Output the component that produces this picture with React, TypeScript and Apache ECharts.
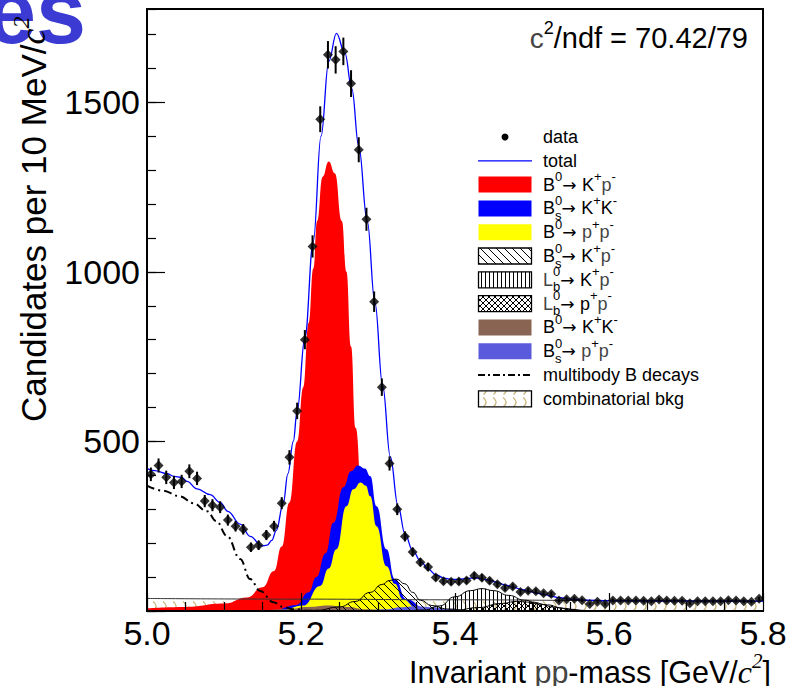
import React, { useEffect, useRef } from 'react';
import * as echarts from 'echarts';

// ---------------- data ----------------
const binLow = 5.0;
const binWidth = 0.01;
const dataCounts = [
  403, 429, 394, 379, 382, 412, 391, 324, 312, 306,
  268, 250, 241, 188, 194, 224, 250, 318, 453, 590,
  800, 1075, 1450, 1640, 1625, 1650, 1555, 1360, 1155, 912,
  660, 435, 300, 220, 174, 144, 130, 99, 88, 86,
  87, 90, 104, 98, 89, 79, 68, 72, 56, 60,
  58, 52, 50, 31, 35, 36, 32, 21, 27, 21,
  31, 31, 31, 31, 30, 29, 34, 31, 30, 30,
  23, 29, 29, 29, 29, 32, 31, 29, 27, 36,
];

const totalFit = [
  [5.0, 420], [5.01, 414], [5.026, 405], [5.035, 397], [5.045, 394], [5.052, 382], [5.065, 360],
  [5.082, 343], [5.095, 320], [5.105, 294], [5.121, 256], [5.134, 220], [5.149, 192], [5.156, 194],
  [5.162, 208], [5.168, 238], [5.177, 318], [5.183, 405], [5.19, 500], [5.195, 590], [5.205, 805],
  [5.216, 1090], [5.226, 1400], [5.236, 1620], [5.246, 1703], [5.257, 1645], [5.266, 1540],
  [5.275, 1370], [5.286, 1150], [5.296, 910], [5.306, 665], [5.316, 455], [5.326, 310],
  [5.335, 228], [5.345, 178], [5.356, 145], [5.365, 124], [5.375, 107], [5.386, 97], [5.396, 93],
  [5.405, 93], [5.416, 96], [5.426, 98], [5.436, 95], [5.445, 90], [5.456, 83], [5.466, 76],
  [5.476, 70], [5.486, 64], [5.496, 58], [5.506, 53], [5.517, 48], [5.526, 43], [5.536, 39],
  [5.549, 35], [5.57, 32], [5.6, 30], [5.7, 29], [5.8, 29],
];

const b0KpiCurve = [
  [5.0, 8], [5.05, 12], [5.1, 22], [5.13, 40], [5.15, 70], [5.165, 118], [5.175, 190], [5.185, 320],
  [5.195, 500], [5.203, 660], [5.21, 850], [5.216, 1010], [5.221, 1150], [5.228, 1280], [5.236, 1325],
  [5.244, 1290], [5.253, 1150], [5.259, 1000], [5.265, 780], [5.271, 540], [5.28, 300], [5.29, 140],
  [5.3, 60], [5.31, 25], [5.33, 6], [5.36, 0],
];

const bsKKStackTop = [
  [5.17, 0], [5.194, 18], [5.21, 55], [5.22, 100], [5.232, 170], [5.242, 260], [5.255, 365],
  [5.265, 412], [5.274, 429], [5.283, 420], [5.29, 397], [5.298, 309], [5.311, 182], [5.322, 94],
  [5.337, 35], [5.36, 10], [5.39, 2], [5.42, 0],
];

const b0PiPiCurve = [
  [5.18, 0], [5.203, 16], [5.225, 74], [5.236, 125], [5.246, 182], [5.259, 309], [5.268, 359],
  [5.2775, 379], [5.284, 370], [5.29, 338], [5.298, 250], [5.311, 132], [5.322, 80], [5.332, 35],
  [5.35, 10], [5.37, 3], [5.4, 0],
];

const bsKpiCurve = [
  [5.2, 0], [5.22, 2], [5.25, 12], [5.27, 28], [5.29, 55], [5.305, 78], [5.315, 90], [5.324, 94],
  [5.335, 80], [5.345, 55], [5.355, 32], [5.37, 16], [5.39, 6], [5.42, 1], [5.45, 0],
];

const lbKpiCurve = [
  [5.34, 0], [5.36, 3], [5.38, 15], [5.4, 42], [5.42, 60], [5.435, 66], [5.45, 60], [5.47, 46],
  [5.49, 32], [5.51, 20], [5.53, 11], [5.55, 5], [5.57, 1], [5.6, 0],
];

const lbPpiCurve = [
  [5.38, 0], [5.4, 2], [5.43, 10], [5.46, 22], [5.48, 28], [5.5, 26], [5.52, 18], [5.54, 8],
  [5.56, 2], [5.58, 0],
];

const b0KKCurve = [
  [5.15, 0], [5.18, 5], [5.21, 12], [5.235, 16], [5.26, 12], [5.285, 5], [5.31, 1], [5.33, 0],
];

const bsPiPiCurve = [
  [5.28, 0], [5.31, 5], [5.33, 11], [5.35, 14], [5.37, 11], [5.39, 6], [5.42, 1], [5.45, 0],
];

const multibodyCurve = [
  [5.0, 370], [5.02, 355], [5.043, 338], [5.06, 318], [5.078, 294], [5.09, 265], [5.104, 221],
  [5.121, 153], [5.134, 94], [5.147, 59], [5.164, 26], [5.177, 12], [5.19, 5], [5.21, 1], [5.23, 0],
];

const combBkgCurve = [
  [5.0, 37], [5.2, 35], [5.4, 33], [5.6, 31], [5.8, 29],
];

const xTicks = { min: 5.0, max: 5.8, step: 0.2 };
const yTicks = { min: 0, max: 1775, major: 500, minor: 100 };

// ---------------- helpers ----------------
const FONT = 'Liberation Sans';
let mctx: CanvasRenderingContext2D | null = null;
function measure(t: string, font: string) {
  if (!mctx) mctx = document.createElement('canvas').getContext('2d');
  mctx!.font = font;
  return mctx!.measureText(t).width;
}

interface Part { t: string; size?: number; dy?: number; italic?: boolean; family?: string; color?: string; noAdv?: boolean; weight?: string }

function run(parts: Part[], x0: number, y0: number, base: number, z = 20) {
  const out: any[] = [];
  let x = x0;
  for (const p of parts) {
    const size = p.size ?? base;
    const font = `${p.italic ? 'italic' : 'normal'} ${p.weight ?? 'normal'} ${size}px "${p.family ?? FONT}"`;
    out.push({
      type: 'text', x, y: y0 + (p.dy ?? 0), z, silent: true,
      style: { text: p.t, font, fill: p.color ?? '#000', align: 'left', verticalAlign: 'middle', textAlign: 'left', textVerticalAlign: 'middle' },
    });
    if (!p.noAdv) x += measure(p.t, font);
  }
  return { els: out, width: x - x0 };
}

function makePattern(w: number, h: number, draw: (c: CanvasRenderingContext2D) => void) {
  const c = document.createElement('canvas');
  c.width = w; c.height = h;
  const ctx = c.getContext('2d')!;
  draw(ctx);
  return { image: c.toDataURL(), repeat: 'repeat', imageWidth: w, imageHeight: h };
}

const LS = 18; // legend font
const sup = (t: string): Part => ({ t, size: 13, dy: -8 });
const supNA = (t: string): Part => ({ t, size: 13, dy: -8, noAdv: true });
const sub = (t: string): Part => ({ t, size: 13, dy: 7 });
const PI: Part = { t: 'p', color: '#444' };
const ARROW: Part = { t: '\u2192 ', family: 'DejaVu Sans', size: 17 };

export default function App() {
  const ref = useRef<HTMLDivElement>(null);
  useEffect(() => {
    if (!ref.current) return;
    const chart = echarts.init(ref.current, null, { renderer: 'svg' });

    const diag = makePattern(8, 8, (c) => {
      c.strokeStyle = '#000'; c.lineWidth = 1;
      c.beginPath();
      c.moveTo(-4, -4); c.lineTo(12, 12);
      c.moveTo(-4, 4); c.lineTo(4, 12);
      c.moveTo(4, -4); c.lineTo(12, 4);
      c.stroke();
    });
    const vert = makePattern(4, 4, (c) => {
      c.strokeStyle = '#000'; c.lineWidth = 1;
      c.beginPath(); c.moveTo(1.5, 0); c.lineTo(1.5, 4); c.stroke();
    });
    const cross = makePattern(6, 6, (c) => {
      c.strokeStyle = '#000'; c.lineWidth = 1;
      c.beginPath();
      c.moveTo(-3, -3); c.lineTo(9, 9);
      c.moveTo(-3, 3); c.lineTo(3, 9);
      c.moveTo(3, -3); c.lineTo(9, 3);
      c.moveTo(9, -3); c.lineTo(-3, 9);
      c.moveTo(3, -3); c.lineTo(-3, 3);
      c.moveTo(9, 3); c.lineTo(3, 9);
      c.stroke();
    });
    const comb = makePattern(10, 12, (c) => {
      c.fillStyle = '#fff'; c.fillRect(0, 0, 10, 12);
      c.strokeStyle = '#c8b67a'; c.lineWidth = 1.3;
      c.beginPath(); c.moveTo(3, 1.5); c.quadraticCurveTo(9, 6, 3.5, 10.5); c.stroke();
    });

    const areaSeries = (name: string, data: number[][], fill: any, stroke: string | null, extra: any = {}) => ({
      name, type: 'line', data, smooth: 0.5, smoothMonotone: 'x', showSymbol: false, symbol: 'none', silent: true,
      lineStyle: stroke ? { color: stroke, width: 1 } : { width: 0, opacity: 0 },
      areaStyle: { color: fill, opacity: 1 },
      ...extra,
    });

    const pts = dataCounts.map((v, i) => [binLow + binWidth * (i + 0.5), v]);

    // ---------------- graphic: texts & legend ----------------
    const g: any[] = [];
    g.push({
      type: 'text', x: -14, y: 12, z: 5, silent: true,
      style: { text: 'es', font: 'normal bold 90px "Liberation Sans"', fill: '#3b3bd4', align: 'left', verticalAlign: 'middle', textAlign: 'left', textVerticalAlign: 'middle' },
    });

    // y title (rotated)
    const yt = run([
      { t: 'Candidates per 10 MeV/' },
      { t: 'c', italic: true, family: 'Liberation Serif', size: 36 },
      { t: '2', italic: true, family: 'Liberation Serif', size: 24, dy: -12 },
    ], 0, 0, 35);
    g.push({ type: 'group', x: 33, y: 422, rotation: Math.PI / 2, z: 20, children: yt.els });

    // x title
    const xtParts: Part[] = [
      { t: 'Invariant ' }, { t: 'pp', color: '#444' }, { t: '-mass [GeV/' },
      { t: 'c', italic: true, family: 'Liberation Serif', size: 32 },
      { t: '2', italic: true, family: 'Liberation Serif', size: 21, dy: -11 },
      { t: ']' },
    ];
    const xtw = run(xtParts, 0, 0, 30.5).width;
    g.push(...run(xtParts, 771 - xtw, 672, 30.5).els);

    // chi2 text
    const chiParts: Part[] = [
      { t: 'c', color: '#444', size: 28 }, { t: '2', size: 18, dy: -10 }, { t: '/ndf = 70.42/79' },
    ];
    const chiw = run(chiParts, 0, 0, 29).width;
    g.push(...run(chiParts, 748 - chiw, 38, 29).els);

    // legend
    const rows: { sym: any; label: Part[] }[] = [
      { sym: { k: 'dot' }, label: [{ t: 'data' }] },
      { sym: { k: 'line', color: '#0000ff' }, label: [{ t: 'total' }] },
      { sym: { k: 'box', fill: '#ff0000' }, label: [{ t: 'B' }, sup('0'), ARROW, { t: 'K' }, sup('+'), PI, sup('-')] },
      { sym: { k: 'box', fill: '#0000ff' }, label: [{ t: 'B' }, supNA('0'), sub('s'), ARROW, { t: 'K' }, sup('+'), { t: 'K' }, sup('-')] },
      { sym: { k: 'box', fill: '#ffff00' }, label: [{ t: 'B' }, sup('0'), ARROW, PI, sup('+'), PI, sup('-')] },
      { sym: { k: 'box', fill: diag, stroke: true }, label: [{ t: 'B' }, supNA('0'), sub('s'), ARROW, { t: 'K' }, sup('+'), PI, sup('-')] },
      { sym: { k: 'box', fill: vert, stroke: true }, label: [{ t: 'L', color: '#444' }, supNA('0'), sub('b'), ARROW, { t: 'K' }, sup('+'), PI, sup('-')] },
      { sym: { k: 'box', fill: cross, stroke: true }, label: [{ t: 'L', color: '#444' }, supNA('0'), sub('b'), ARROW, { t: 'p' }, sup('+'), PI, sup('-')] },
      { sym: { k: 'box', fill: '#8a6452' }, label: [{ t: 'B' }, sup('0'), ARROW, { t: 'K' }, sup('+'), { t: 'K' }, sup('-')] },
      { sym: { k: 'box', fill: '#5a5adc' }, label: [{ t: 'B' }, supNA('0'), sub('s'), ARROW, PI, sup('+'), PI, sup('-')] },
      { sym: { k: 'dash' }, label: [{ t: 'multibody B decays' }] },
      { sym: { k: 'box', fill: comb, stroke: true }, label: [{ t: 'combinatorial bkg' }] },
    ];
    rows.forEach((r, i) => {
      const y = 137 + i * 23.8;
      const s = r.sym;
      if (s.k === 'dot') g.push({ type: 'circle', z: 20, silent: true, shape: { cx: 505, cy: y, r: 3.5 }, style: { fill: '#000' } });
      else if (s.k === 'line') g.push({ type: 'line', z: 20, silent: true, shape: { x1: 478, y1: y, x2: 532, y2: y }, style: { stroke: s.color, lineWidth: 1.3 } });
      else if (s.k === 'dash') g.push({ type: 'line', z: 20, silent: true, shape: { x1: 478, y1: y, x2: 532, y2: y }, style: { stroke: '#000', lineWidth: 2, lineDash: [7, 3, 2, 3] } });
      else g.push({ type: 'rect', z: 20, silent: true, shape: { x: 478.5, y: y - 8, width: 53, height: 16 }, style: { fill: s.fill, stroke: s.stroke ? '#000' : null, lineWidth: s.stroke ? 1.3 : 0 } });
      g.push(...run(r.label, 543, y, LS).els);
    });

    const option: any = {
      animation: false,
      grid: { left: 147, right: 29, top: 9, bottom: 75, show: true, borderColor: '#000', borderWidth: 2, backgroundColor: 'transparent' },
      xAxis: {
        type: 'value', min: xTicks.min, max: xTicks.max, interval: xTicks.step, z: 10,
        axisLine: { show: true, lineStyle: { color: '#000', width: 2 } },
        axisTick: { show: true, inside: true, length: 18, lineStyle: { color: '#000', width: 1.2 } },
        minorTick: { show: true, splitNumber: 4, length: 9, lineStyle: { color: '#000', width: 1.2 } },
        axisLabel: { fontSize: 34, fontFamily: FONT, color: '#000', margin: 5, formatter: (v: number) => v.toFixed(1) },
        splitLine: { show: false }, minorSplitLine: { show: false },
      },
      yAxis: [
        {
          type: 'value', min: yTicks.min, max: yTicks.max, interval: yTicks.major, z: 10, position: 'left',
          axisLine: { show: true, lineStyle: { color: '#000', width: 2 } },
          axisTick: { show: true, inside: true, length: 18, lineStyle: { color: '#000', width: 1.2 } },
          axisLabel: { fontSize: 34, fontFamily: FONT, color: '#000', margin: 7, showMaxLabel: false, formatter: (v: number) => (v === 0 || v > 1500 ? '' : String(v)) },
          splitLine: { show: false },
        },
        {
          type: 'value', min: yTicks.min, max: yTicks.max, interval: yTicks.minor, z: 10, position: 'left',
          axisLine: { show: false },
          axisTick: { show: true, inside: true, length: 9, lineStyle: { color: '#000', width: 1.2 } },
          axisLabel: { show: false }, splitLine: { show: false },
        },
      ],
      series: [
        areaSeries('combinatorial bkg', combBkgCurve, comb, '#333'),
        areaSeries('B0->K+pi-', b0KpiCurve, '#ff0000', null),
        areaSeries('Bs->K+K-', bsKKStackTop, '#0000ff', null),
        areaSeries('B0->pi+pi-', b0PiPiCurve, '#ffff00', null),
        areaSeries('B0->K+K-', b0KKCurve, '#8a6452', null),
        areaSeries('Bs->pi+pi-', bsPiPiCurve, '#5a5adc', null),
        areaSeries('Bs->K+pi-', bsKpiCurve, diag, '#000'),
        areaSeries('Lb->K+pi-', lbKpiCurve, vert, '#000'),
        areaSeries('Lb->p+pi-', lbPpiCurve, cross, '#000'),
        {
          name: 'multibody', type: 'line', data: multibodyCurve, smooth: 0.4, smoothMonotone: 'x', showSymbol: false, symbol: 'none', silent: true,
          lineStyle: { color: '#000', width: 2, type: [8, 4, 2, 4] },
        },
        {
          name: 'total', type: 'line', data: totalFit, smooth: 0.4, smoothMonotone: 'x', showSymbol: false, symbol: 'none', silent: true,
          lineStyle: { color: '#0000ff', width: 1.3 },
        },
        {
          name: 'errors', type: 'custom', data: pts, silent: true, z: 5,
          renderItem: (_p: any, api: any) => {
            const x = api.value(0), y = api.value(1);
            const e = Math.sqrt(y);
            const a = api.coord([x, y - e]);
            const b = api.coord([x, y + e]);
            return { type: 'line', shape: { x1: a[0], y1: a[1], x2: b[0], y2: b[1] }, style: { stroke: '#000', lineWidth: 2 } };
          },
        },
        {
          name: 'data', type: 'scatter', data: pts, symbol: 'diamond', symbolSize: [10, 10], silent: true, z: 6,
          itemStyle: { color: '#000' },
        },
      ],
      graphic: g,
    };
    chart.setOption(option);
    return () => chart.dispose();
  }, []);
  return <div ref={ref} style={{ position: 'fixed', left: 0, top: 0, width: 792, height: 686, background: '#fff' }} />;
}
